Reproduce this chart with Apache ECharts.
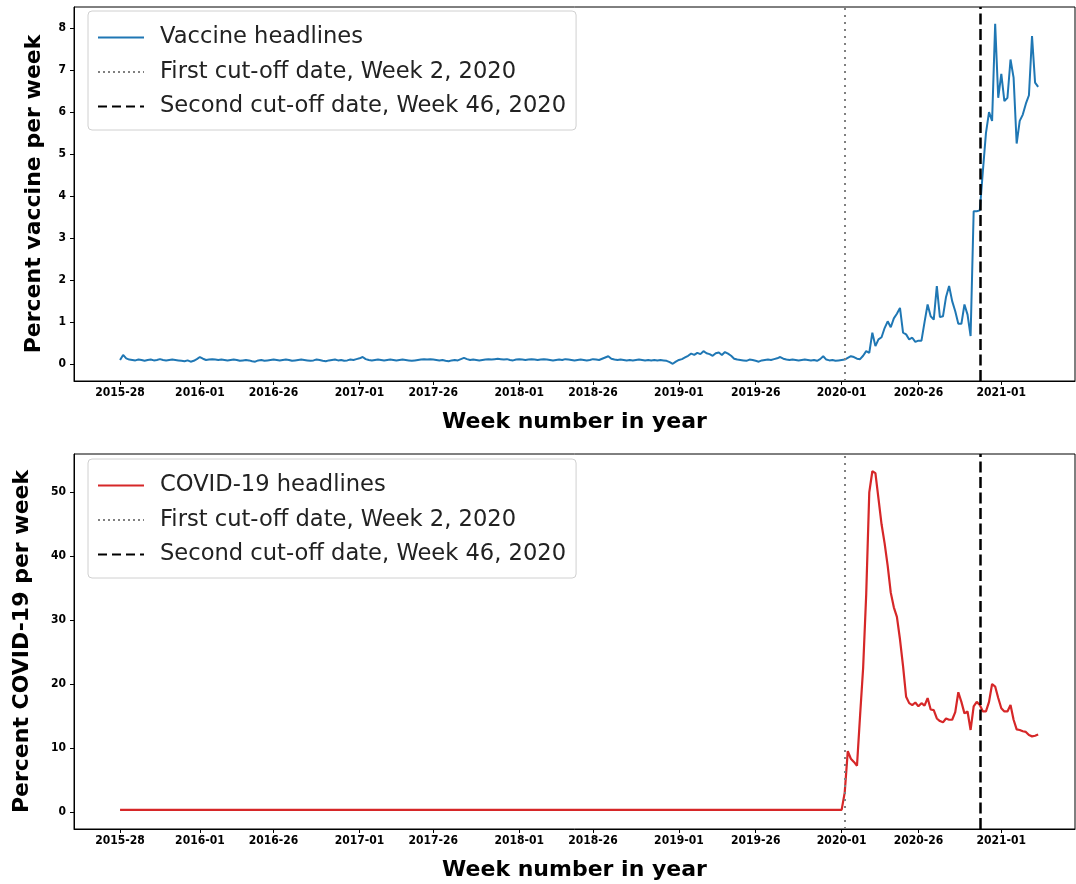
<!DOCTYPE html>
<html>
<head>
<meta charset="utf-8">
<title>Vaccine and COVID-19 headlines per week</title>
<script src="https://cdn.jsdelivr.net/npm/echarts@6/dist/echarts.min.js"></script>
<style>
  html, body { margin: 0; padding: 0; background: #fff; }
  #chart { width: 1076px; height: 884px; }
</style>
</head>
<body>
<div id="chart"></div>
<script>
// week index 0 = 2015-28
const tickWeeks = [0, 26, 50, 78, 102, 130, 154, 182, 207, 235, 260, 287]
const tickLabels = ['2015-28', '2016-01', '2016-26', '2017-01', '2017-26', '2018-01',
  '2018-26', '2019-01', '2019-26', '2020-01', '2020-26', '2021-01']

const firstCutoff = 236   // week 2, 2020
const secondCutoff = 280  // week 46, 2020

const vaccineTicks = [0, 1, 2, 3, 4, 5, 6, 7, 8]
const covidTicks = [0, 10, 20, 30, 40, 50]

// percent of headlines mentioning vaccine, per week
const vaccinePct = [
  0.10, 0.22, 0.14, 0.11, 0.10, 0.09, 0.11, 0.10, 0.08, 0.10,
  0.11, 0.09, 0.10, 0.12, 0.10, 0.09, 0.10, 0.11, 0.10, 0.09,
  0.08, 0.07, 0.09, 0.06, 0.08, 0.12, 0.17, 0.13, 0.10, 0.11,
  0.12, 0.11, 0.10, 0.11, 0.10, 0.09, 0.10, 0.11, 0.10, 0.08,
  0.09, 0.10, 0.09, 0.07, 0.06, 0.09, 0.10, 0.08, 0.09, 0.10,
  0.11, 0.10, 0.09, 0.10, 0.11, 0.10, 0.08, 0.09, 0.10, 0.11,
  0.10, 0.09, 0.08, 0.09, 0.11, 0.10, 0.08, 0.07, 0.09, 0.10,
  0.11, 0.09, 0.10, 0.08, 0.09, 0.11, 0.10, 0.12, 0.14, 0.17,
  0.12, 0.10, 0.09, 0.10, 0.11, 0.10, 0.09, 0.10, 0.11, 0.10,
  0.09, 0.10, 0.11, 0.10, 0.09, 0.08, 0.09, 0.10, 0.11, 0.12,
  0.11, 0.12, 0.11, 0.10, 0.09, 0.10, 0.08, 0.07, 0.09, 0.10,
  0.09, 0.12, 0.15, 0.12, 0.10, 0.11, 0.10, 0.09, 0.10, 0.11,
  0.12, 0.11, 0.12, 0.13, 0.12, 0.11, 0.12, 0.10, 0.09, 0.11,
  0.12, 0.11, 0.10, 0.11, 0.12, 0.11, 0.10, 0.11, 0.12, 0.11,
  0.10, 0.09, 0.10, 0.11, 0.10, 0.12, 0.11, 0.10, 0.09, 0.10,
  0.11, 0.10, 0.09, 0.10, 0.12, 0.11, 0.10, 0.13, 0.16, 0.19,
  0.13, 0.11, 0.10, 0.11, 0.10, 0.09, 0.10, 0.09, 0.10, 0.11,
  0.10, 0.09, 0.10, 0.09, 0.10, 0.09, 0.10, 0.09, 0.08, 0.05,
  0.01, 0.06, 0.10, 0.12, 0.16, 0.20, 0.25, 0.22, 0.27, 0.24,
  0.31, 0.26, 0.24, 0.20, 0.26, 0.28, 0.22, 0.29, 0.25, 0.20,
  0.13, 0.11, 0.10, 0.09, 0.08, 0.11, 0.10, 0.08, 0.06, 0.09,
  0.10, 0.11, 0.10, 0.12, 0.14, 0.17, 0.13, 0.11, 0.10, 0.11,
  0.10, 0.09, 0.10, 0.11, 0.10, 0.09, 0.10, 0.08, 0.12, 0.19,
  0.11, 0.09, 0.10, 0.08, 0.09, 0.10,
  0.11, 0.15, 0.19, 0.17, 0.13, 0.12, 0.20, 0.31, 0.27, 0.75,
  0.43, 0.59, 0.64, 0.86, 1.02, 0.88, 1.09, 1.20, 1.34, 0.75,
  0.71, 0.59, 0.63, 0.53, 0.56, 0.56, 1.00, 1.42, 1.14, 1.06,
  1.86, 1.12, 1.14, 1.60, 1.86, 1.50, 1.26, 0.96, 0.96, 1.42,
  1.18, 0.67, 3.64, 3.64, 3.66, 4.60, 5.50, 6.00, 5.79, 8.10,
  6.34, 6.91, 6.26, 6.34, 7.25, 6.82, 5.25, 5.79, 5.94, 6.20,
  6.40, 7.81, 6.70, 6.60
]

// percent of headlines mentioning COVID-19, per week
const covidPct = [
  0.3, 0.3, 0.3, 0.3, 0.3, 0.3, 0.3, 0.3, 0.3, 0.3, 0.3, 0.3, 0.3, 0.3, 0.3, 0.3, 0.3, 0.3, 0.3, 0.3,
  0.3, 0.3, 0.3, 0.3, 0.3, 0.3, 0.3, 0.3, 0.3, 0.3, 0.3, 0.3, 0.3, 0.3, 0.3, 0.3, 0.3, 0.3, 0.3, 0.3,
  0.3, 0.3, 0.3, 0.3, 0.3, 0.3, 0.3, 0.3, 0.3, 0.3, 0.3, 0.3, 0.3, 0.3, 0.3, 0.3, 0.3, 0.3, 0.3, 0.3,
  0.3, 0.3, 0.3, 0.3, 0.3, 0.3, 0.3, 0.3, 0.3, 0.3, 0.3, 0.3, 0.3, 0.3, 0.3, 0.3, 0.3, 0.3, 0.3, 0.3,
  0.3, 0.3, 0.3, 0.3, 0.3, 0.3, 0.3, 0.3, 0.3, 0.3, 0.3, 0.3, 0.3, 0.3, 0.3, 0.3, 0.3, 0.3, 0.3, 0.3,
  0.3, 0.3, 0.3, 0.3, 0.3, 0.3, 0.3, 0.3, 0.3, 0.3, 0.3, 0.3, 0.3, 0.3, 0.3, 0.3, 0.3, 0.3, 0.3, 0.3,
  0.3, 0.3, 0.3, 0.3, 0.3, 0.3, 0.3, 0.3, 0.3, 0.3, 0.3, 0.3, 0.3, 0.3, 0.3, 0.3, 0.3, 0.3, 0.3, 0.3,
  0.3, 0.3, 0.3, 0.3, 0.3, 0.3, 0.3, 0.3, 0.3, 0.3, 0.3, 0.3, 0.3, 0.3, 0.3, 0.3, 0.3, 0.3, 0.3, 0.3,
  0.3, 0.3, 0.3, 0.3, 0.3, 0.3, 0.3, 0.3, 0.3, 0.3, 0.3, 0.3, 0.3, 0.3, 0.3, 0.3, 0.3, 0.3, 0.3, 0.3,
  0.3, 0.3, 0.3, 0.3, 0.3, 0.3, 0.3, 0.3, 0.3, 0.3, 0.3, 0.3, 0.3, 0.3, 0.3, 0.3, 0.3, 0.3, 0.3, 0.3,
  0.3, 0.3, 0.3, 0.3, 0.3, 0.3, 0.3, 0.3, 0.3, 0.3, 0.3, 0.3, 0.3, 0.3, 0.3, 0.3, 0.3, 0.3, 0.3, 0.3,
  0.3, 0.3, 0.3, 0.3, 0.3, 0.3, 0.3, 0.3, 0.3, 0.3, 0.3, 0.3, 0.3, 0.3, 0.3, 0.3,
  3.0, 9.5, 8.3, 7.8, 7.2, 15.0, 22.5, 34.0, 50.0, 53.3,
  53.0, 49.0, 45.0, 42.0, 38.5, 34.3, 32.0, 30.5, 27.0, 22.8,
  18.0, 17.0, 16.7, 17.1, 16.5, 17.0, 16.6, 17.8, 16.0, 15.9,
  14.6, 14.2, 14.0, 14.6, 14.4, 14.4, 15.6, 18.7, 17.2, 15.4,
  15.7, 12.8, 16.5, 17.2, 16.7, 15.7, 15.7, 17.2, 20.0, 19.6,
  17.8, 16.2, 15.7, 15.7, 16.7, 14.4, 12.9, 12.8, 12.6, 12.5,
  12.0, 11.8, 11.9, 12.1
]

const FONT = 'DejaVu Sans'
const TICK_FONT = '"DejaVu Sans Condensed", "DejaVu Sans"'

const chart = echarts.init(document.getElementById('chart'))

const weekLabel = (v) => {
  const k = tickWeeks.indexOf(v)
  return k >= 0 ? tickLabels[k] : ''
}

const makeXAxis = (gridIndex) => ({
  type: 'value',
  gridIndex,
  min: -15,
  max: 311,
  name: 'Week number in year',
  nameLocation: 'middle',
  nameGap: 30,
  nameTextStyle: { fontFamily: FONT, fontSize: 22, fontWeight: 'bold', color: '#000' },
  axisLine: { show: true, onZero: false, lineStyle: { color: '#000', width: 1 } },
  axisTick: { show: true, length: 4, customValues: tickWeeks, lineStyle: { color: '#000' } },
  axisLabel: {
    customValues: tickWeeks,
    formatter: weekLabel,
    fontFamily: TICK_FONT,
    fontSize: 12,
    fontWeight: 'bold',
    color: '#000',
    margin: 6
  },
  splitLine: { show: false }
})

const makeYAxis = (gridIndex, name, min, max, ticks, gap) => ({
  type: 'value',
  gridIndex,
  min,
  max,
  name,
  nameLocation: 'middle',
  nameRotate: 90,
  nameGap: gap,
  nameTextStyle: { fontFamily: FONT, fontSize: 22, fontWeight: 'bold', color: '#000' },
  axisLine: { show: true, onZero: false, lineStyle: { color: '#000', width: 1 } },
  axisTick: { show: true, length: 4, customValues: ticks, lineStyle: { color: '#000' } },
  axisLabel: {
    customValues: ticks,
    fontFamily: TICK_FONT,
    fontSize: 12,
    fontWeight: 'bold',
    color: '#000',
    margin: 8
  },
  splitLine: { show: false }
})

// vertical cut-off lines across the whole plot height
const cutoffLines = () => ({
  silent: true,
  symbol: 'none',
  label: { show: false },
  animation: false,
  data: [
    { xAxis: firstCutoff, lineStyle: { color: '#808080', width: 2, type: [2, 5] } },
    { xAxis: secondCutoff, lineStyle: { color: '#000', width: 2.5, type: [11, 4.5] } }
  ]
})

const makeLegend = (top, names) => ({
  orient: 'vertical',
  left: 88,
  top,
  data: names,
  itemWidth: 46,
  itemHeight: 22,
  itemGap: 11.5,
  padding: [15, 10, 12, 9],
  borderColor: '#d0d0d0',
  borderWidth: 1,
  borderRadius: 4,
  backgroundColor: 'rgba(255,255,255,0.8)',
  selectedMode: false,
  itemStyle: { opacity: 0 },
  textStyle: { fontFamily: FONT, fontSize: 22.6, color: '#222', padding: [0, 0, 0, 11] }
})

const cut1 = 'First cut-off date, Week 2, 2020'
const cut2 = 'Second cut-off date, Week 46, 2020'

// empty series, only to get the cut-off entries into the legends
const legendSeries = (idx) => [
  {
    name: cut1, type: 'line', xAxisIndex: idx, yAxisIndex: idx, data: [],
    symbol: 'none', lineStyle: { color: '#808080', width: 1.5, type: [2, 3] }, itemStyle: { color: '#808080' }
  },
  {
    name: cut2, type: 'line', xAxisIndex: idx, yAxisIndex: idx, data: [],
    symbol: 'none', lineStyle: { color: '#000', width: 2.5, type: [9, 5] }, itemStyle: { color: '#000' }
  }
]

const option = {
  animation: false,
  backgroundColor: '#fff',
  grid: [
    { left: 74, right: 1, top: 7, height: 374, show: true, borderColor: '#000', borderWidth: 1, outerBoundsMode: 'none' },
    { left: 74, right: 1, top: 454, height: 375, show: true, borderColor: '#000', borderWidth: 1, outerBoundsMode: 'none' }
  ],
  legend: [
    makeLegend(11, ['Vaccine headlines', cut1, cut2]),
    makeLegend(459, ['COVID-19 headlines', cut1, cut2])
  ],
  xAxis: [makeXAxis(0), makeXAxis(1)],
  yAxis: [
    makeYAxis(0, 'Percent vaccine per week', -0.4, 8.5, vaccineTicks, 29),
    makeYAxis(1, 'Percent COVID-19 per week', -2.7, 56, covidTicks, 41)
  ],
  series: [
    {
      name: 'Vaccine headlines',
      type: 'line',
      xAxisIndex: 0,
      yAxisIndex: 0,
      data: vaccinePct.map((v, i) => [i, v]),
      symbol: 'none',
      lineStyle: { color: '#1f77b4', width: 2 },
      itemStyle: { color: '#1f77b4' },
      markLine: cutoffLines()
    },
    {
      name: 'COVID-19 headlines',
      type: 'line',
      xAxisIndex: 1,
      yAxisIndex: 1,
      data: covidPct.map((v, i) => [i, v]),
      symbol: 'none',
      lineStyle: { color: '#d62728', width: 2.2 },
      itemStyle: { color: '#d62728' },
      markLine: cutoffLines()
    },
    ...legendSeries(0),
    ...legendSeries(1)
  ]
}

chart.setOption(option)
</script>
</body>
</html>
